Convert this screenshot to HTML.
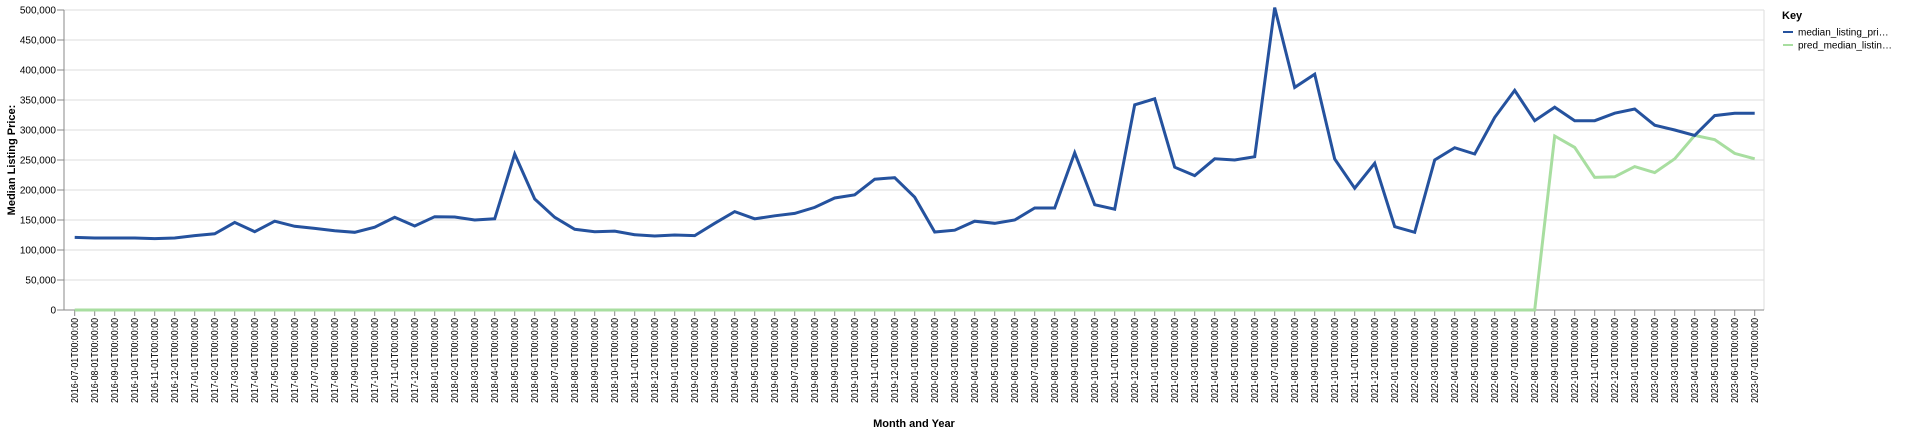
<!DOCTYPE html>
<html><head><meta charset="utf-8">
<style>
html,body{margin:0;padding:0;background:#fff;}
svg{display:block;font-family:"Liberation Sans",Arial,sans-serif;}
</style></head>
<body>
<svg id="chart" width="1920" height="434" viewBox="0 0 1920 434" xmlns="http://www.w3.org/2000/svg"></svg>
<script>
const months = [];
(function(){ for(let y=2016,m=7;!(y===2023&&m===8);){ months.push(y+'-'+String(m).padStart(2,'0')+'-01T00:00:00'); m++; if(m>12){m=1;y++;} } })();
const medianValues = [121000,120000,120000,120000,119000,120000,124000,127000,146000,130500,148000,139500,136000,132000,129500,138000,154500,140000,155500,155000,150000,152000,260000,185000,154500,134500,130500,131500,125500,123300,125000,124000,144500,164000,152000,157000,161000,171000,186700,192000,218000,220500,188000,130000,133000,148000,144500,150000,170000,170000,262000,175500,168000,342000,352000,238000,224000,252000,250000,255500,504000,371000,393000,251700,203000,244500,139000,129500,250000,270500,260000,321000,366000,315500,338000,315500,315500,328000,335000,308000,300000,291000,324000,328000,328000];
const predValues = [0,0,0,0,0,0,0,0,0,0,0,0,0,0,0,0,0,0,0,0,0,0,0,0,0,0,0,0,0,0,0,0,0,0,0,0,0,0,0,0,0,0,0,0,0,0,0,0,0,0,0,0,0,0,0,0,0,0,0,0,0,0,0,0,0,0,0,0,0,0,0,0,0,0,290000,271000,221000,222000,239000,229000,252000,291000,284000,261000,252000];
const yTicks = [0,50000,100000,150000,200000,250000,300000,350000,400000,450000,500000];

const NS='http://www.w3.org/2000/svg';
const svg=document.getElementById('chart');
const L=64, R=1764, T=10, B=310, X0=74.7, STEP=20;
const xs=i=>X0+i*STEP;
const ys=v=>B-(v/500000)*(B-T);
function el(tag,attrs,parent){const e=document.createElementNS(NS,tag);for(const k in attrs)e.setAttribute(k,attrs[k]);(parent||svg).appendChild(e);return e;}

yTicks.forEach(v=>{
  const y=ys(v);
  const g=el('line',{x1:L,x2:R,y1:y,y2:y,stroke:'#dddddd','stroke-width':1});
  
  
  const tk=el('line',{x1:L-7,x2:L,y1:y,y2:y,stroke:'#888','stroke-width':1});
  
  
  const t=el('text',{x:L-8,y:y+3.5,'text-anchor':'end','font-size':10,fill:'#000'});
  t.textContent=v.toLocaleString('en-US');
  
  
});
const fr=el('line',{x1:R,x2:R,y1:T,y2:B,stroke:'#dddddd','stroke-width':1});


const ya=el('line',{x1:L,x2:L,y1:T,y2:B,stroke:'#888','stroke-width':1});


const xa=el('line',{x1:L,x2:R,y1:B,y2:B,stroke:'#888','stroke-width':1});



months.forEach((m,i)=>{
  const x=xs(i);
  const tk=el('line',{x1:x,x2:x,y1:B,y2:B+6,stroke:'#888','stroke-width':1});
  
  
  const t=el('text',{x:0,y:0,'text-anchor':'end','font-size':10,fill:'#000',textLength:85,lengthAdjust:'spacingAndGlyphs',transform:`translate(${x+3.5},${B+8}) rotate(-90)`});
  t.textContent=m;
  
  
});

function line(vals,color,name){
  const d=vals.map((v,i)=>(i?'L':'M')+xs(i).toFixed(1)+','+ys(v).toFixed(1)).join('');
  const p=el('path',{d:d,fill:'none',stroke:color,'stroke-width':3,'stroke-linejoin':'miter'});
  
  
}
line(predValues,'#a8dea0','pred-median-listing-price-line');
line(medianValues,'#25529e','median-listing-price-line');

const yt=el('text',{x:0,y:0,'text-anchor':'middle','font-size':11,'font-weight':'bold',fill:'#000',transform:'translate(15,160) rotate(-90)'});
yt.textContent='Median Listing Price:';


const xt=el('text',{x:914,y:427,'text-anchor':'middle','font-size':11,'font-weight':'bold',fill:'#000'});
xt.textContent='Month and Year';



const lg=el('g',{});


const kt=el('text',{x:1782,y:19,'font-size':11,'font-weight':'bold',fill:'#000'},lg);
kt.textContent='Key';


[['median_listing_pri…','#25529e',32,'legend-entry-median'],['pred_median_listin…','#a8dea0',45,'legend-entry-pred']].forEach(([lab,c,y,n])=>{
  const g=el('g',{},lg);
  
  
  el('line',{x1:1783,x2:1793,y1:y,y2:y,stroke:c,'stroke-width':2},g);
  const t=el('text',{x:1798,y:y+3.5,'font-size':10,fill:'#000'},g);
  t.textContent=lab;
});
</script>
</body></html>
